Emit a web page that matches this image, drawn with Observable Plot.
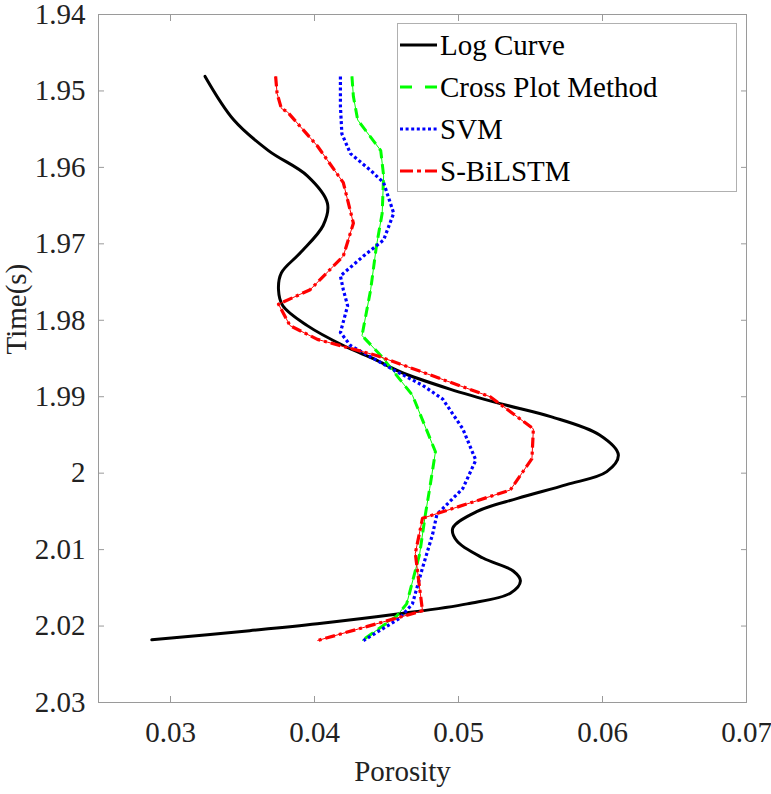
<!DOCTYPE html>
<html><head><meta charset="utf-8">
<script src="https://cdn.jsdelivr.net/npm/d3@7"></script>
<script src="https://cdn.jsdelivr.net/npm/@observablehq/plot@0.6"></script>
<style>
html,body{margin:0;padding:0;background:#fff;}
#wrap{position:relative;width:771px;height:794px;font-family:"Liberation Serif","Times New Roman",serif;}
#legend{position:absolute;left:397px;top:23px;width:340px;height:169px;border:1px solid #b0b0b0;background:#fff;box-sizing:border-box;}
.row{position:absolute;left:2px;height:40px;display:flex;align-items:center;font-size:29px;color:#000;white-space:nowrap;}
.row svg{margin-right:3px;}
</style></head><body>
<div id="wrap"><div id="legend"></div></div>
<script>
// ---- data ----
const logTime = [1.9481,1.9538,1.9578,1.9611,1.9647,1.9676,1.9712,1.9738,1.9760,1.9781,1.9807,1.9833,1.9852,1.9867,1.9890,1.9909,1.9926,1.9950,1.9976,1.9998,2.0015,2.0033,2.0050,2.0072,2.0089,2.0111,2.0128,2.0141,2.0157,2.0171,2.0184,2.0197,2.0206,2.0218];
const logPorosity = [0.0324,0.0344,0.0368,0.0395,0.0409,0.0406,0.0390,0.0377,0.0375,0.0378,0.0395,0.0420,0.0443,0.0459,0.0494,0.0529,0.0564,0.0598,0.0611,0.0603,0.0575,0.0541,0.0513,0.0496,0.0499,0.0517,0.0538,0.0543,0.0536,0.0506,0.0459,0.0402,0.0355,0.0287];

const crossTime = [1.9481,1.9507,1.9538,1.9578,1.9611,1.9660,1.9703,1.9760,1.9820,1.9846,1.9898,1.9972,2.0020,2.0054,2.0106,2.0171,2.0187,2.0219];
const crossPorosity = [0.0426,0.0427,0.0430,0.0446,0.0448,0.0447,0.0443,0.0439,0.0433,0.0446,0.0468,0.0484,0.0480,0.0477,0.0473,0.0464,0.0457,0.0433];

const svmTime = [1.9481,1.9520,1.9556,1.9582,1.9604,1.9620,1.9660,1.9695,1.9716,1.9742,1.9760,1.9781,1.9816,1.9833,1.9865,1.9885,1.9903,1.9942,1.9983,2.0020,2.0054,2.0080,2.0124,2.0171,2.0190,2.0219];
const svmPorosity = [0.0418,0.0418,0.0419,0.0425,0.0439,0.0448,0.0455,0.0448,0.0434,0.0418,0.0420,0.0423,0.0418,0.0425,0.0455,0.0475,0.0489,0.0503,0.0512,0.0503,0.0485,0.0482,0.0475,0.0468,0.0459,0.0434];

const lstmTime = [1.9481,1.9503,1.9523,1.9527,1.9572,1.9620,1.9673,1.9716,1.9760,1.9779,1.9807,1.9825,1.9846,1.9900,1.9942,1.9981,2.0022,2.0059,2.0105,2.0180,2.0219];
const lstmPorosity = [0.0373,0.0374,0.0377,0.0381,0.0402,0.0420,0.0427,0.0420,0.0397,0.0375,0.0383,0.0402,0.0443,0.0522,0.0552,0.0551,0.0536,0.0475,0.0470,0.0475,0.0402];

const xTicks = [0.03,0.04,0.05,0.06,0.07];
const yTicks = [1.94,1.95,1.96,1.97,1.98,1.99,2.00,2.01,2.02,2.03];
const seriesNames = ["Log Curve","Cross Plot Method","SVM","S-BiLSTM"];
const xLabel = "Porosity";
const yLabel = "Time(s)";

// ---- tables ----
const toRows = (t, p) => t.map((d, i) => ({time: d, porosity: p[i]}));
const logRows = toRows(logTime, logPorosity);
const crossRows = toRows(crossTime, crossPorosity);
const svmRows = toRows(svmTime, svmPorosity);
const lstmRows = toRows(lstmTime, lstmPorosity);

const styles = [
  {stroke:"#000000", strokeWidth:3, dash:null, legendDash:null},
  {stroke:"#00ff00", strokeWidth:3, dash:"10,6", legendDash:"12,13"},
  {stroke:"#0000ff", strokeWidth:3.2, dash:"3,2.6", legendDash:"3,2.6"},
  {stroke:"#ff0000", strokeWidth:3.2, dash:"10,4,3,4", legendDash:"13,4,4,4"}
];
const axisGray = "#9a9a9a";
const lineOpts = (s, extra = {}) => ({x: "porosity", y: "time", stroke: s.stroke, strokeWidth: s.strokeWidth, strokeDasharray: s.dash, strokeLinecap: s.dash ? "butt" : "round", strokeLinejoin: "round", ...extra});

const chart = Plot.plot({
  width: 771, height: 794,
  marginLeft: 98, marginRight: 25, marginTop: 14, marginBottom: 92,
  style: {fontFamily: "'Liberation Serif', 'Times New Roman', serif", fontSize: "29px", background: "#fff", color: "#222", overflow: "visible"},
  x: {domain: [0.025, 0.07]},
  y: {domain: [1.94, 2.03], reverse: true},
  marks: [
    Plot.frame({stroke: axisGray}),
    Plot.axisX(xTicks, {anchor: "bottom", tickSize: -6, tickPadding: 25, tickFormat: d3.format(".2f"), stroke: axisGray, fill: "#222", label: null}),
    Plot.axisX(xTicks, {anchor: "top", tickSize: -6, tickFormat: () => "", stroke: axisGray, label: null}),
    Plot.axisY(yTicks, {anchor: "left", tickSize: -6, tickPadding: 19, tickFormat: d3.format(".3~g"), stroke: axisGray, fill: "#222", label: null}),
    Plot.axisY(yTicks, {anchor: "right", tickSize: -6, tickFormat: () => "", stroke: axisGray, label: null}),
    Plot.line(logRows, {...lineOpts(styles[0]), curve: "catmull-rom"}),
    Plot.line(crossRows, lineOpts(styles[1], {strokeWidth: 1, strokeDasharray: null})),
    Plot.line(crossRows, lineOpts(styles[1])),
    Plot.line(svmRows, lineOpts(styles[2])),
    Plot.line(lstmRows, lineOpts(styles[3], {strokeWidth: 1, strokeDasharray: null})),
    Plot.line(lstmRows, lineOpts(styles[3])),
    Plot.text([xLabel], {frameAnchor: "bottom", dx: -20, dy: 78, fill: "#222", text: d => d}),
    Plot.text([yLabel], {frameAnchor: "left", rotate: -90, dx: -82, dy: -4, fill: "#222", text: d => d})
  ]
});
const wrap = document.getElementById("wrap");
wrap.insertBefore(chart, wrap.firstChild);

// ---- legend ----
const legend = document.getElementById("legend");
const rowCenters = [21, 63, 105, 147];
seriesNames.forEach((name, i) => {
  const row = document.createElement("div");
  row.className = "row";
  row.style.top = (rowCenters[i] - 20) + "px";
  const s = styles[i];
  row.innerHTML = `<svg width="37" height="10"><line x1="0" x2="37" y1="5" y2="5" stroke="${s.stroke}" stroke-width="${s.strokeWidth}" ${s.legendDash ? `stroke-dasharray="${s.legendDash}"` : ""}/></svg><span>${name}</span>`;
  legend.appendChild(row);
});
</script>
</body></html>
